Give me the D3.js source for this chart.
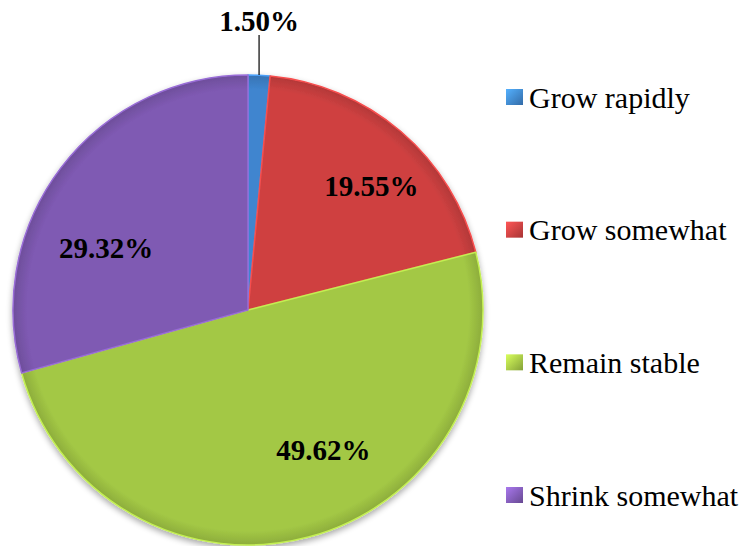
<!DOCTYPE html>
<html><head><meta charset="utf-8">
<script src="https://cdn.jsdelivr.net/npm/d3@7"></script>
<style>html,body{margin:0;padding:0;background:#fff;}svg{display:block;}
text{font-family:"Liberation Serif","Times New Roman",Times,"DejaVu Serif",serif;}</style>
</head><body>
<svg id="chart" width="743" height="546"></svg>
<script>
const categories = ["Grow rapidly", "Grow somewhat", "Remain stable", "Shrink somewhat"];
const values = [1.50, 19.55, 49.62, 29.32];
const valueLabels = ["1.50%", "19.55%", "49.62%", "29.32%"];
const colors = ["#3f85cf", "#cf4141", "#a3c845", "#7f5ab3"];

const W = 743, H = 546;
const cx = 248, cy = 310, R = 235;
const svg = d3.select("#chart");
const defs = svg.append("defs");

const shadow = defs.append("filter").attr("id", "sh").attr("x", "-20%").attr("y", "-20%").attr("width", "140%").attr("height", "140%");
shadow.append("feGaussianBlur").attr("in", "SourceAlpha").attr("stdDeviation", 3);
shadow.append("feOffset").attr("dx", 0).attr("dy", 3).attr("result", "b");
shadow.append("feComponentTransfer").append("feFuncA").attr("type", "linear").attr("slope", 0.35);
const fm = shadow.append("feMerge");
fm.append("feMergeNode");
fm.append("feMergeNode").attr("in", "SourceGraphic");

colors.forEach((c, i) => {
  const g = defs.append("radialGradient").attr("id", "g" + i)
    .attr("gradientUnits", "userSpaceOnUse").attr("cx", 0).attr("cy", 0).attr("r", R);
  g.append("stop").attr("offset", "0%").attr("stop-color", c);
  g.append("stop").attr("offset", "94%").attr("stop-color", c);
  g.append("stop").attr("offset", "100%").attr("stop-color", d3.color(c).darker(0.4));
  const lg = defs.append("linearGradient").attr("id", "lg" + i).attr("x1", 0).attr("y1", 0).attr("x2", 1).attr("y2", 1);
  lg.append("stop").attr("offset", "0%").attr("stop-color", d3.color(c).brighter(0.8));
  lg.append("stop").attr("offset", "100%").attr("stop-color", d3.color(c).darker(0.6));
});

const data = categories.map((c, i) => ({ name: c, value: values[i], label: valueLabels[i], color: colors[i], i }));
const pie = d3.pie().value(d => d.value).sort(null);
const arcs = pie(data);
const arc = d3.arc().innerRadius(0).outerRadius(R);
const g = svg.append("g").attr("transform", `translate(${cx},${cy})`);
g.append("g").attr("filter", "url(#sh)").selectAll("path").data(arcs).join("path")
  .attr("d", arc)
  .attr("fill", d => `url(#g${d.data.i})`)
  .attr("stroke", d => d3.color(d.data.color).brighter(0.5))
  .attr("stroke-width", 1.5)
  .attr("stroke-linejoin", "round");

// labels (Excel "best fit" placement approximated by angle/radius tweaks)
const labelR = [0, 175, 159, 155];
const angleNudge = [0, 0.073, -0.234, -0.237];
arcs.forEach((a, k) => {
  if (k === 0) {
    const mid = (a.startAngle + a.endAngle) / 2;
    const x = R * Math.sin(mid);
    g.append("line").attr("x1", x).attr("x2", x).attr("y1", -R).attr("y2", -R - 40)
      .attr("stroke", "#000").attr("stroke-width", 1.2);
    g.append("text").attr("x", x).attr("y", -R - 44).attr("text-anchor", "middle")
      .attr("font-weight", "bold").attr("font-size", 29).attr("fill", "#000")
      .text(a.data.label);
  } else {
    const mid = (a.startAngle + a.endAngle) / 2 + angleNudge[k];
    const x = labelR[k] * Math.sin(mid), y = -labelR[k] * Math.cos(mid);
    g.append("text").attr("x", x).attr("y", y).attr("dy", "0.35em").attr("text-anchor", "middle")
      .attr("font-weight", "bold").attr("font-size", 29).attr("fill", "#000")
      .text(a.data.label);
  }
});

// legend
const ly = d3.scalePoint().domain(categories).range([97, 495]);
const lgd = svg.append("g");
categories.forEach((c, i) => {
  const y = ly(c);
  lgd.append("rect").attr("x", 506).attr("y", y - 8).attr("width", 17).attr("height", 16)
    .attr("fill", `url(#lg${i})`);
  lgd.append("text").attr("x", 529).attr("y", y).attr("dy", "0.35em")
    .attr("font-size", 30).attr("fill", "#000").text(c);
});
</script>
</body></html>
